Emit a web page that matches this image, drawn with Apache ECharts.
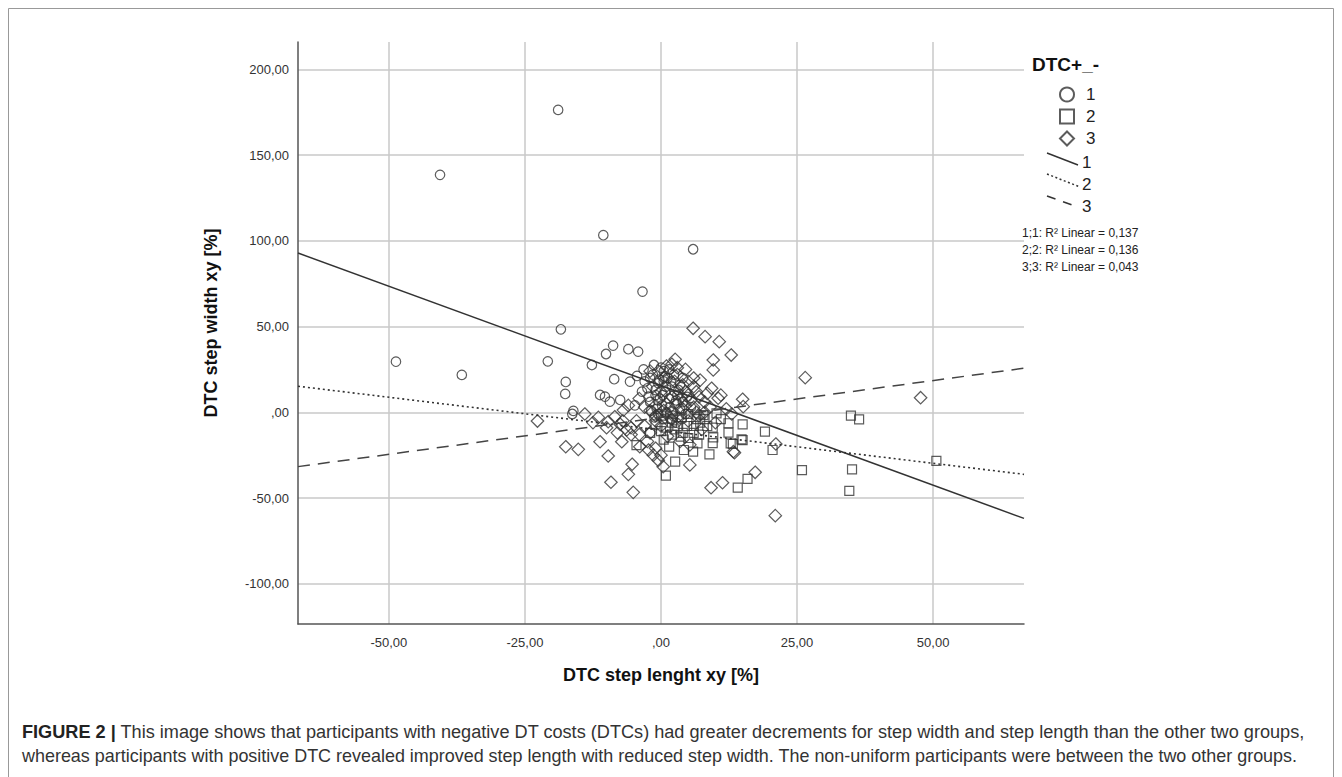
<!DOCTYPE html>
<html><head><meta charset="utf-8">
<script src="https://cdn.jsdelivr.net/npm/echarts@6/dist/echarts.min.js"></script>
<style>html,body{margin:0;padding:0;background:#fff}#c{width:1342px;height:777px}</style>
</head><body><div id="c"></div>
<script>
// ---- data ----
const xTicks = [-50, -25, 0, 25, 50];
const yTicks = [-100, -50, 0, 50, 100, 150, 200];
const groupNames = ['1', '2', '3'];
const legendTitle = 'DTC+_-';
const xTitle = 'DTC step lenght xy [%]';
const yTitle = 'DTC step width xy [%]';
const r2Labels = ['1;1: R² Linear = 0,137', '2;2: R² Linear = 0,136', '3;3: R² Linear = 0,043'];
const captionBold = 'FIGURE 2 |';
const captionLine1 = ' This image shows that participants with negative DT costs (DTCs) had greater decrements for step width and step length than the other two groups,';
const captionLine2 = 'whereas participants with positive DTC revealed improved step length with reduced step width. The non-uniform participants were between the two other groups.';

// group 1 (circles)
const group1 = [
  [-18.9,176.4],[-40.6,138.5],[-10.6,103.3],[5.9,95.1],[-3.4,70.4],[-18.4,48.4],
  [-48.7,29.5],[-36.6,21.8],[-20.8,29.7],[-12.7,27.6],[-8.8,38.9],[-10.1,34.0],
  [-6.0,36.8],[-4.2,35.4],[-17.5,17.7],[-17.6,10.7],[-16.1,0.8],[-16.3,-1.0],
  [-11.2,10.1],[-10.3,9.1],[-8.6,19.3],[-5.7,17.9],[-4.4,21.2],[-1.3,27.6],
  [-7.5,7.2],[-9.4,6.2],[-2.3,9.1],[-1.5,22],[0.5,24],[1.2,20],[-0.5,17],
  [2.0,15],[0.8,12],[-1.0,10],[1.5,8],[3.0,10],[2.5,5],[0.2,4],[-0.8,2],
  [1.0,0],[2.2,-2],[3.5,2],[4.0,6],[-2.0,6],[-2.5,14],[-0.3,19],[1.8,18],
  [3.2,13],[0.4,-4],[-1.2,-3],[2.8,-6],[4.5,-1],[1.6,3],[-0.6,7],[0.9,15],
  [2.4,22],[-1.8,1],[5.5,3],[4.8,9],[3.8,-4],[-3.5,12],[-4.8,4],[0.0,26],[-0.2,8],
  [-3,18],[-2,20],[0.5,18],[1.5,25],[-1,13],[0.3,10],[2.8,7],[3.5,16],
  [-0.5,-1],[1.8,-4],[2.5,12],[4,20],[-3.2,25],[0.7,21]
];
// group 2 (squares)
const group2 = [
  [34.9,-2.0],[36.4,-4.1],[25.9,-33.7],[35.1,-33.3],[34.6,-45.9],[50.6,-28.4],
  [14.1,-44.0],[15.9,-38.9],[0.9,-37.0],[2.6,-28.8],[8.9,-24.5],[6.7,-18.1],
  [4.2,-22.0],[5.9,-23.0],[9.6,-14.6],[12.4,-11.9],[12.8,-18.1],[14.8,-15.8],
  [19.1,-11.3],[20.5,-22.0],[-4.5,-19.1],[15.0,-7.0],[15.0,-16.2],[3.6,-14.2],
  [7.8,-1.6],[10.2,-0.6],[12.4,-6.4],[2.5,-10],[4.8,-8],[6.5,-4],[1.5,-20],
  [-2.0,-12],[0.5,-16],[3.8,-3],[8.5,-8],[11.0,-4],[-1.0,-7],[6.0,-12],
  [9.5,-18],[2.0,-6],[5.0,-1],[13.2,-18.5],[0.0,-2],[7.2,-6],
  [1,-9],[3,-8],[4,-12],[6,-8],[2,-13],[7,-13],[5,-15],[0,-11],[8,-4],[9.5,-9]
];
// group 3 (diamonds)
const group3 = [
  [26.5,20.2],[47.7,8.5],[-17.5,-20.1],[-15.2,-21.6],[-11.2,-17.2],[-9.7,-25.5],
  [-9.2,-40.8],[-6.0,-36.2],[-5.3,-30.3],[-5.1,-46.7],[-7.2,-17.2],[5.3,-30.7],
  [9.2,-44.0],[11.3,-41.1],[17.3,-35.0],[21.0,-60.3],[21.1,-18.5],[13.5,-23.6],
  [0.4,-31.7],[-0.5,-28],[-1.4,-25],[-2.3,-22],[-22.7,-5.1],[5.9,49.0],
  [8.1,44.1],[10.7,41.2],[12.9,33.4],[9.6,30.5],[9.6,24.7],[2.6,30.9],
  [7.2,18.8],[9.3,14.0],[10.5,8.2],[15.0,7.6],[15.1,3.3],[-8.5,-2.6],
  [-6.9,1.3],[-6.3,-10.3],[-3.9,-20.1],[-9.7,-5.5],[-12.5,-6],[-5.5,-13],
  [-4.5,-5],[-3.0,-8],[-7.5,-7],[-7.0,-5],[-5.5,-9],[-4.0,-13],[-2.5,-17],
  [-1.0,-21],[0.0,-25],[1,5],[2,0],[3,-3],[-1,-2],[0,12],[4,16],[5,10],[6,3],
  [7,-2],[8,6],[3,22],[1,27],[-2,24],[4.5,25],[6.5,12],[11,10],[12,2],[13,-1],
  [10,-6],[7.5,-10],[2.5,18],[0,-8],[-2,-12],[1.2,-14],[5,-5],[8,0],[9,3],
  [-3,3],[-4,8],[-6,4],[-8,-12],[-10,-9],[-11.5,-3],[-14,-1],[5.3,-19],
  [13.3,-23],[3.5,-17],[-1.5,15],[2,9],[6,20],[4,2],
  [-1,4],[0.5,1],[3,5],[4.5,4],[5.5,7],[6.5,0],[2,-4],[1,-1],[3.8,9],[6,15],
  [4.5,12],[7,9],[8.5,11],[-2,1],[-1,-5],[5,18],[3,26],[0.5,20],[-0.5,24],[2,28]
];
// fitted regression lines (end points)
const fit1 = [[-66.7, 92.9], [66.7, -61.9]];
const fit2 = [[-66.7, 15.2], [66.7, -36.2]];
const fit3 = [[-66.7, -31.7], [66.7, 25.7]];

// ---- chart ----
const fmt = v => (v === 0 ? ',00' : v.toFixed(2).replace('.', ','));
const ink = '#333';
const ptStyle = { color: 'rgba(0,0,0,0)', borderColor: ink, borderWidth: 1.2 };

const chart = echarts.init(document.getElementById('c'), null, { renderer: 'svg' });
const option = {
  backgroundColor: '#fff',
  animation: false,
  grid: { left: 298, right: 318, top: 42, bottom: 153, containLabel: false },
  xAxis: {
    type: 'value', min: -66.7, max: 66.7,
    name: xTitle, nameLocation: 'middle', nameGap: 42,
    nameTextStyle: { fontFamily: 'Liberation Sans', fontSize: 18, fontWeight: 'bold', color: '#111' },
    axisLine: { show: true, onZero: false, lineStyle: { color: '#555', width: 1.5 } },
    axisTick: { show: false, customValues: xTicks },
    axisLabel: { customValues: xTicks, formatter: fmt, fontFamily: 'Liberation Sans', fontSize: 13, color: '#333', margin: 12 },
    splitLine: { show: true, lineStyle: { color: '#c8c8c8', width: 1.5 } }
  },
  yAxis: {
    type: 'value', min: -123.5, max: 216,
    name: yTitle, nameLocation: 'middle', nameGap: 78, nameRotate: 90,
    nameTextStyle: { fontFamily: 'Liberation Sans', fontSize: 18, fontWeight: 'bold', color: '#111', padding: [0, 0, 0, 20] },
    axisLine: { show: true, onZero: false, lineStyle: { color: '#555', width: 1.5 } },
    axisTick: { show: false, customValues: yTicks },
    axisLabel: { customValues: yTicks, formatter: fmt, fontFamily: 'Liberation Sans', fontSize: 13, color: '#333', margin: 9 },
    splitLine: { show: true, lineStyle: { color: '#c8c8c8', width: 1.5 } }
  },
  legend: {
    orient: 'vertical', left: 1054, top: 81, itemWidth: 14, itemHeight: 14, itemGap: 5,
    data: groupNames,
    textStyle: { fontFamily: 'Liberation Sans', fontSize: 17, lineHeight: 16, color: '#222', padding: [0, 0, 0, 7] }
  },
  series: [
    { name: groupNames[0], type: 'scatter', symbol: 'circle', symbolSize: 9.5, data: group1, itemStyle: ptStyle, z: 3 },
    { name: groupNames[1], type: 'scatter', symbol: 'rect', symbolSize: 9, data: group2, itemStyle: ptStyle, z: 3 },
    { name: groupNames[2], type: 'scatter', symbol: 'diamond', symbolSize: 12.5, data: group3, itemStyle: ptStyle, z: 3 },
    { name: 'fit1', type: 'line', data: fit1, showSymbol: false, silent: true, lineStyle: { color: '#333', width: 1.5, type: 'solid' }, z: 4 },
    { name: 'fit2', type: 'line', data: fit2, showSymbol: false, silent: true, lineStyle: { color: '#333', width: 1.6, type: [2, 3] }, z: 4 },
    { name: 'fit3', type: 'line', data: fit3, showSymbol: false, silent: true, lineStyle: { color: '#444', width: 1.5, type: [12, 8] }, z: 4 }
  ],
  graphic: [
    { type: 'rect', shape: { x: 8.5, y: 8.5, width: 1325, height: 800 }, style: { fill: 'none', stroke: '#999', lineWidth: 1 }, silent: true },
    { type: 'text', x: 1032, y: 64, style: { text: legendTitle, font: 'bold 19px "Liberation Sans"', fill: '#111', verticalAlign: 'middle' } },
    { type: 'line', shape: { x1: 1047, y1: 153, x2: 1078, y2: 165 }, style: { stroke: '#333', lineWidth: 1.5 } },
    { type: 'line', shape: { x1: 1047, y1: 174, x2: 1080, y2: 187 }, style: { stroke: '#333', lineWidth: 1.5, lineDash: [2, 2.5] } },
    { type: 'line', shape: { x1: 1047, y1: 196, x2: 1078, y2: 207 }, style: { stroke: '#333', lineWidth: 1.5, lineDash: [9, 8] } },
    { type: 'text', x: 1082, y: 162, style: { text: groupNames[0], font: '17px "Liberation Sans"', fill: '#222', verticalAlign: 'middle' } },
    { type: 'text', x: 1082, y: 184, style: { text: groupNames[1], font: '17px "Liberation Sans"', fill: '#222', verticalAlign: 'middle' } },
    { type: 'text', x: 1082, y: 206, style: { text: groupNames[2], font: '17px "Liberation Sans"', fill: '#222', verticalAlign: 'middle' } },
    { type: 'text', x: 1022, y: 233, style: { text: r2Labels[0], font: '12px "Liberation Sans"', fill: '#222', verticalAlign: 'middle' } },
    { type: 'text', x: 1022, y: 250, style: { text: r2Labels[1], font: '12px "Liberation Sans"', fill: '#222', verticalAlign: 'middle' } },
    { type: 'text', x: 1022, y: 267, style: { text: r2Labels[2], font: '12px "Liberation Sans"', fill: '#222', verticalAlign: 'middle' } },
    { type: 'text', x: 22, y: 731, scaleX: 0.955, style: {
        text: '{b|' + captionBold + '}' + captionLine1,
        font: '19px "Liberation Sans"', fill: '#333', verticalAlign: 'middle',
        rich: { b: { fontWeight: 'bold', fontSize: 19, fontFamily: 'Liberation Sans', fill: '#222' } } } },
    { type: 'text', x: 22, y: 755, scaleX: 0.945, style: { text: captionLine2, font: '19px "Liberation Sans"', fill: '#333', verticalAlign: 'middle' } }
  ]
};
chart.setOption(option);
</script>
</body></html>
